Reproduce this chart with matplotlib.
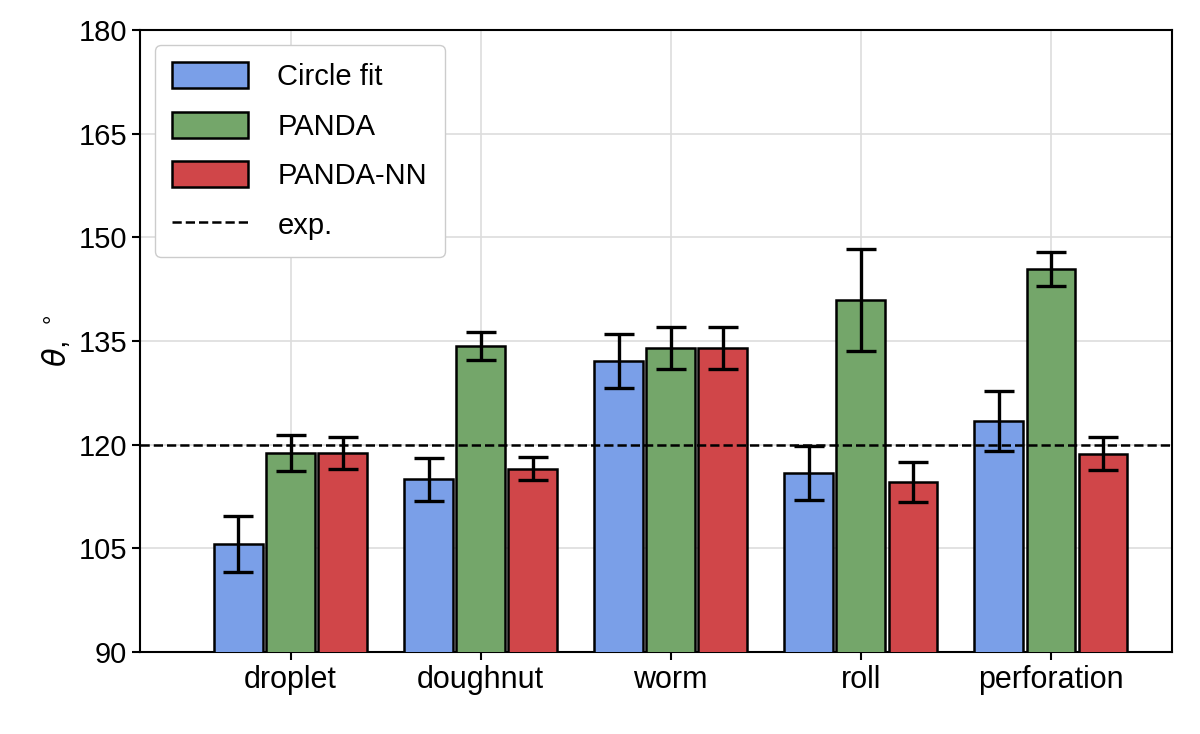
import numpy as np
import matplotlib
matplotlib.use("Agg")
import matplotlib.pyplot as plt

plt.rcParams['font.family'] = 'Liberation Sans'
plt.rcParams['font.size'] = 21

categorias = ['droplet', 'doughnut', 'worm', 'roll', 'perforation']
circle = [105.6, 115.0, 132.1, 115.9, 123.4]
circle_err = [4.0, 3.1, 3.9, 3.9, 4.4]
panda = [118.8, 134.3, 134.0, 140.9, 145.4]
panda_err = [2.6, 2.0, 3.0, 7.4, 2.5]
nn = [118.8, 116.5, 134.0, 114.6, 118.7]
nn_err = [2.3, 1.7, 3.0, 2.9, 2.4]
exp_val = 120
yticks = [90, 105, 120, 135, 150, 165, 180]

fig = plt.figure(figsize=(12, 7.34), dpi=100)
ax = fig.add_axes([0.117, 0.112, 0.86, 0.847])
x = np.arange(len(categorias))
paso = 0.274
w = 0.255
kw = dict(edgecolor='black', linewidth=1.8, capsize=11,
          error_kw=dict(elinewidth=2.4, capthick=2.4), zorder=3)
ax.bar(x - paso, circle, w, yerr=circle_err, color='#7a9fe8', label='Circle fit', **kw)
ax.bar(x, panda, w, yerr=panda_err, color='#74a66a', label='PANDA', **kw)
ax.bar(x + paso, nn, w, yerr=nn_err, color='#d04649', label='PANDA-NN', **kw)
ax.axhline(exp_val, color='black', linestyle='--', linewidth=1.8, label='exp.', zorder=4)

ax.set_xticks(x)
ax.set_xticklabels(categorias, fontsize=22)
ax.set_yticks(yticks)
ax.set_ylim(90, 180)
ax.set_xlim(-0.79, 4.64)
ax.set_ylabel(r'$\theta$, $^\circ$', fontsize=22)
ax.grid(True, color='#dddddd', linewidth=1.2, zorder=0)
ax.set_axisbelow(True)
for s in ax.spines.values():
    s.set_linewidth(1.5)
ax.tick_params(width=1.5, length=6)
h, l = ax.get_legend_handles_labels()
orden = [1, 2, 3, 0]
ax.legend([h[i] for i in orden], [l[i] for i in orden], loc='upper left',
          fontsize=21, framealpha=1, edgecolor='#cccccc',
          handlelength=2.6, handleheight=1.0, borderpad=0.6, labelspacing=0.7,
          handletextpad=1.0)
fig.savefig('out.png')
